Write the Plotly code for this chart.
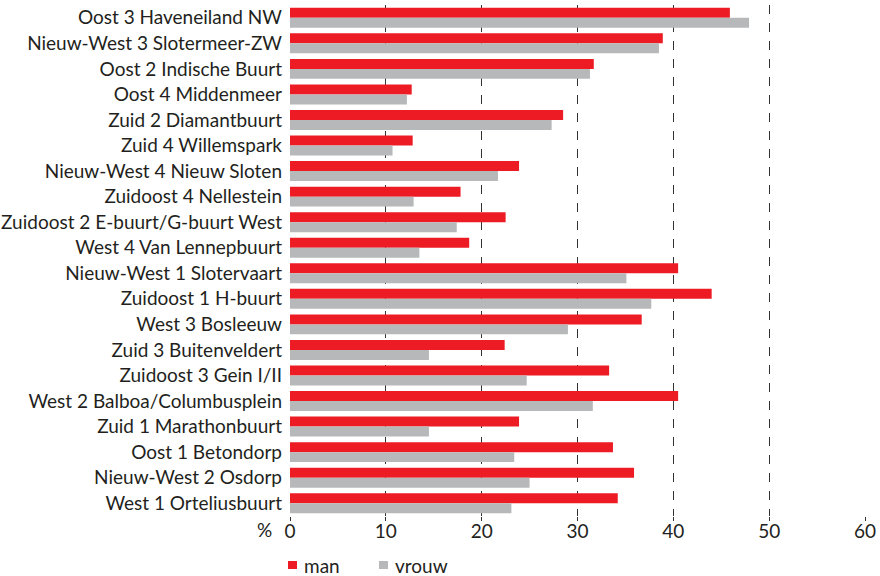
import plotly.graph_objects as go

categories = [
    "Oost 3 Haveneiland NW",
    "Nieuw-West 3 Slotermeer-ZW",
    "Oost 2 Indische Buurt",
    "Oost 4 Middenmeer",
    "Zuid 2 Diamantbuurt",
    "Zuid 4 Willemspark",
    "Nieuw-West 4 Nieuw Sloten",
    "Zuidoost 4 Nellestein",
    "Zuidoost 2 E-buurt/G-buurt West",
    "West 4 Van Lennepbuurt",
    "Nieuw-West 1 Slotervaart",
    "Zuidoost 1 H-buurt",
    "West 3 Bosleeuw",
    "Zuid 3 Buitenveldert",
    "Zuidoost 3 Gein I/II",
    "West 2 Balboa/Columbusplein",
    "Zuid 1 Marathonbuurt",
    "Oost 1 Betondorp",
    "Nieuw-West 2 Osdorp",
    "West 1 Orteliusbuurt",
]
man = [45.9, 38.9, 31.7, 12.7, 28.5, 12.8, 23.9, 17.8, 22.5, 18.7,
       40.5, 44.0, 36.7, 22.4, 33.3, 40.5, 23.9, 33.7, 35.9, 34.2]
vrouw = [47.9, 38.5, 31.3, 12.2, 27.3, 10.7, 21.7, 12.9, 17.4, 13.5,
         35.1, 37.7, 29.0, 14.5, 24.7, 31.6, 14.5, 23.4, 25.0, 23.1]
x_ticks = [0, 10, 20, 30, 40, 50, 60]
series_names = ["man", "vrouw"]
series_colors = ["#ed1c24", "#b7b8ba"]

TEXT = "#231f20"
FONT = "Lato"
FS = 19

fig = go.Figure()
for name, vals, col in zip(series_names, [man, vrouw], series_colors):
    fig.add_trace(go.Bar(y=categories, x=vals, name=name, orientation="h",
                         marker=dict(color=col, line=dict(width=0))))

# manual legend (paper coordinates)
legend_sq_x = [(-0.0035, 0.0122), (0.1548, 0.1704)]
legend_txt_x = [0.0210, 0.1790]
shapes = []
annotations = []
for (x0, x1), tx, name, col in zip(legend_sq_x, legend_txt_x, series_names, series_colors):
    shapes.append(dict(type="rect", xref="paper", yref="paper", x0=x0, x1=x1,
                       y0=-0.1037, y1=-0.0881, fillcolor=col, line=dict(width=0)))
    annotations.append(dict(text=name, xref="paper", yref="paper", x=tx, y=-0.0959,
                            xanchor="left", yanchor="middle", showarrow=False,
                            font=dict(size=FS, color=TEXT)))
annotations.append(dict(text="%", xref="paper", yref="paper", x=-0.027, y=-0.027,
                        xanchor="right", yanchor="middle", showarrow=False,
                        font=dict(size=FS, color=TEXT)))

fig.update_layout(
    width=880, height=576,
    margin=dict(l=290, r=15, t=5, b=60, autoexpand=False),
    paper_bgcolor="white", plot_bgcolor="white",
    barmode="group", bargap=0.22, bargroupgap=0,
    font=dict(family=FONT, size=FS, color=TEXT),
    showlegend=False,
    xaxis=dict(range=[0, 60], tickvals=x_ticks, showgrid=True, gridcolor="#333333",
               griddash="dash", gridwidth=1, zeroline=False, showline=False,
               ticks="outside", ticklen=4, tickcolor="#333333", ticklabelstandoff=-6,
               tickfont=dict(size=FS, color=TEXT)),
    yaxis=dict(range=[19.5, -0.5], showgrid=False, zeroline=False, showline=False,
               ticks="", ticklabelstandoff=7, tickfont=dict(size=FS, color=TEXT)),
    shapes=shapes,
    annotations=annotations,
)

fig.write_html("out.html", config={"displayModeBar": False},
               post_script="document.body.style.margin='0px';")
